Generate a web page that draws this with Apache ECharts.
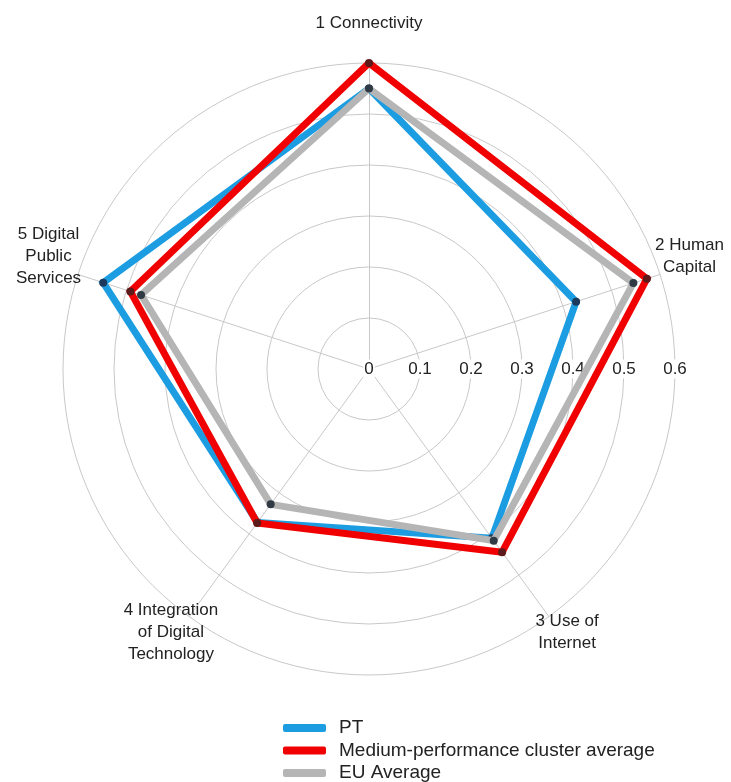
<!DOCTYPE html>
<html>
<head>
<meta charset="utf-8">
<script src="https://cdn.jsdelivr.net/npm/echarts@6/dist/echarts.min.js"></script>
<style>
html,body{margin:0;padding:0;background:#fff;}
#chart{width:731px;height:782px;}
</style>
</head>
<body>
<div id="chart"></div>
<script>
// Categories (dimensions) in reading order 1..5
const categories = ['1 Connectivity', '2 Human\nCapital', '3 Use of\nInternet', '4 Integration\nof Digital\nTechnology', '5 Digital\nPublic\nServices'];
// Series values, same order as categories
const ptValues     = [0.55, 0.427, 0.41, 0.372, 0.548];
const mediumValues = [0.60, 0.573, 0.444, 0.373, 0.492];
const euValues     = [0.55, 0.545, 0.416, 0.328, 0.47];
const seriesNames = ['PT', 'Medium-performance cluster average', 'EU Average'];
const ringTicks = [0, 0.1, 0.2, 0.3, 0.4, 0.5, 0.6];
const axisMax = 0.6;

// ECharts radar lays indicators counter-clockwise; reorder so 1..5 run clockwise
const placement = [0, 4, 3, 2, 1];
const place = arr => placement.map(i => arr[i]);

const chart = echarts.init(document.getElementById('chart'), null, {renderer: 'canvas'});
const FONT = 'Liberation Sans, Arial, sans-serif';
const colors = {pt: '#1c9de2', med: '#f00000', eu: '#b5b5b5'};

chart.setOption({
  animation: false,
  textStyle: {fontFamily: FONT},
  legend: {
    orient: 'vertical',
    left: 283,
    top: 718.5,
    height: 70,
    padding: 0,
    itemWidth: 43,
    itemHeight: 8,
    itemGap: 3.5,
    icon: 'roundRect',
    textStyle: {fontSize: 19, color: '#222', fontFamily: FONT, lineHeight: 19, padding: [0, 0, 0, 8]},
    data: [
      {name: seriesNames[0], itemStyle: {color: colors.pt}},
      {name: seriesNames[1], itemStyle: {color: colors.med}},
      {name: seriesNames[2], itemStyle: {color: colors.eu}}
    ]
  },
  radar: {
    center: [369, 369],
    radius: 306,
    startAngle: 90,
    shape: 'circle',
    splitNumber: ringTicks.length - 1,
    z: 0,
    indicator: place(categories).map(n => ({name: n, min: 0, max: axisMax})),
    axisNameGap: 31,
    axisName: {
      color: '#222', fontSize: 17, fontFamily: FONT,
      align: 'center', verticalAlign: 'middle', lineHeight: 22,
      formatter: name => name.split('\n').map(s => '{t|' + s + '}').join('\n') + '\n{s| }',
      rich: {
        t: {fontSize: 17, lineHeight: 22, color: '#222', fontFamily: FONT, align: 'center'},
        s: {fontSize: 10, lineHeight: 18}
      }
    },
    axisLine: {lineStyle: {color: '#c8c8c8', width: 1}},
    splitLine: {lineStyle: {color: '#c8c8c8', width: 1}},
    splitArea: {show: false},
    axisTick: {show: false},
    axisLabel: {show: false}
  },
  polar: {center: [369, 369], radius: 306},
  angleAxis: {type: 'value', min: 0, max: 360, startAngle: 0, show: false},
  radiusAxis: {
    type: 'value', min: 0, max: axisMax, interval: 0.1, z: 1,
    axisLine: {show: false}, axisTick: {show: false}, splitLine: {show: false},
    axisLabel: {
      margin: 0, align: 'center', verticalAlign: 'middle',
      fontSize: 17, color: '#222', fontFamily: FONT,
      backgroundColor: '#fff', padding: [1, 1, 1, 1],
      formatter: v => String(Math.round(v * 10) / 10)
    }
  },
  series: [
    {
      type: 'radar', name: seriesNames[0], z: 2,
      symbol: 'circle', symbolSize: 8,
      itemStyle: {color: '#1d3a5c'},
      lineStyle: {color: colors.pt, width: 7, join: 'miter'},
      data: [{name: seriesNames[0], value: place(ptValues)}]
    },
    {
      type: 'radar', name: seriesNames[2], z: 3,
      symbol: 'circle', symbolSize: 8,
      itemStyle: {color: '#2f3a44'},
      lineStyle: {color: colors.eu, width: 7, join: 'miter'},
      data: [{name: seriesNames[2], value: place(euValues)}]
    },
    {
      type: 'radar', name: seriesNames[1], z: 4,
      symbol: 'circle', symbolSize: 8,
      itemStyle: {color: '#5c1a1a'},
      lineStyle: {color: colors.med, width: 7, join: 'miter'},
      data: [{name: seriesNames[1], value: place(mediumValues)}]
    }
  ]
});
</script>
</body>
</html>
